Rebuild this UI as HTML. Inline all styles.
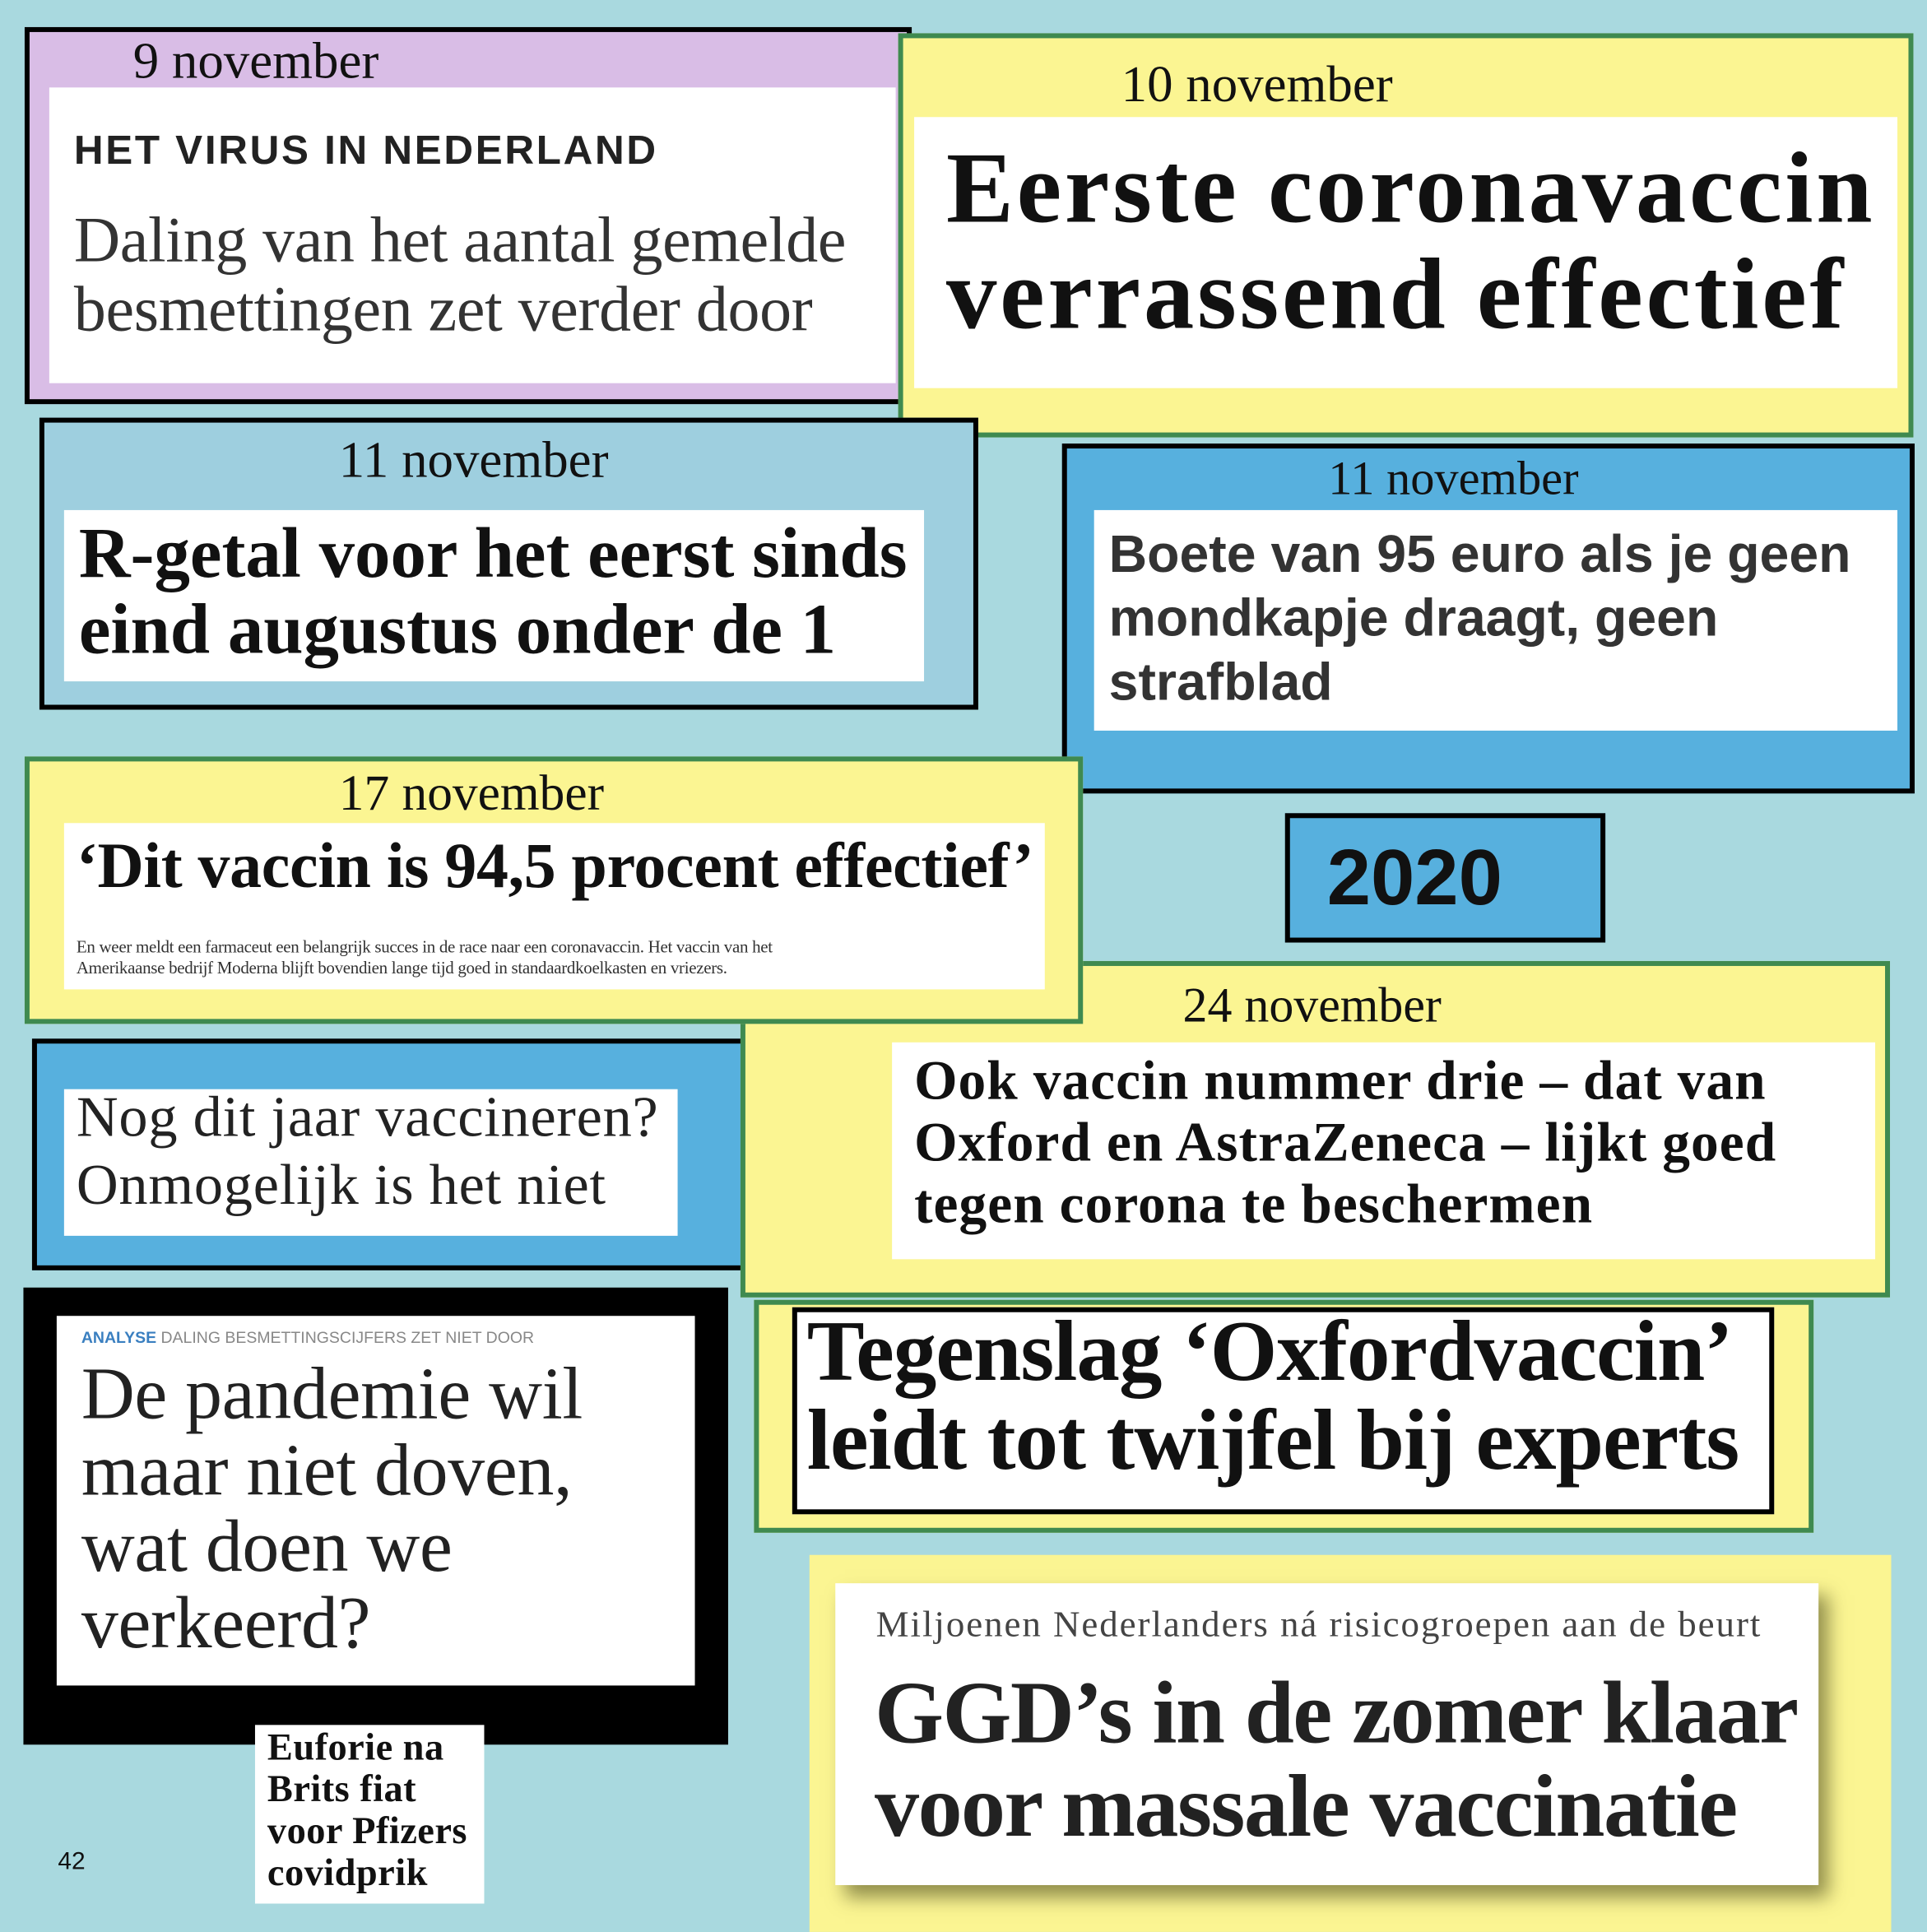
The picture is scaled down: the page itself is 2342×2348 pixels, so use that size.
<!DOCTYPE html>
<html><head><meta charset="utf-8"><style>
html,body{margin:0;padding:0;}
body{width:2342px;height:2348px;overflow:hidden;background:#a9d9df;}
#w{position:absolute;left:0;top:0;width:1564px;height:1568px;transform:scale(1.4974);transform-origin:0 0;background:#a9d9df;}
.b{position:absolute;box-sizing:border-box;}
.wh{position:absolute;background:#fff;box-sizing:border-box;}
.s{font-family:"Liberation Serif",serif;}
.ss{font-family:"Liberation Sans",sans-serif;}
.t{position:absolute;white-space:nowrap;color:#111;}
.yel{background:#fbf592;border:4px solid #3f8a50;}
.blk{border:4px solid #000;}
</style></head><body><div id="w">

<div class="b blk" style="left:20px;top:22px;width:720px;height:306px;background:#d9bde6;"></div>
<div class="wh" style="left:40px;top:71px;width:687px;height:240px;"></div>
<div class="t s" style="left:108px;top:26px;font-size:42px;">9 november</div>
<div class="t ss" style="left:60px;top:103px;font-size:33px;font-weight:bold;color:#222;letter-spacing:1.8px;">HET VIRUS IN NEDERLAND</div>
<div class="t s" style="left:60px;top:168px;font-size:52px;line-height:56px;color:#333;letter-spacing:-0.2px;">Daling van het aantal gemelde<br>besmettingen zet verder door</div>

<div class="b yel" style="left:729px;top:27px;width:824px;height:328px;"></div>
<div class="wh" style="left:742px;top:95px;width:798px;height:220px;"></div>
<div class="t s" style="left:910px;top:45px;font-size:42px;">10 november</div>
<div class="t s" style="left:768px;top:110px;font-size:82px;line-height:86px;font-weight:bold;letter-spacing:2.5px;">Eerste coronavaccin<br>verrassend effectief</div>

<div class="b blk" style="left:32px;top:339px;width:762px;height:237px;background:#9ecfdf;"></div>
<div class="wh" style="left:52px;top:414px;width:698px;height:139px;"></div>
<div class="t s" style="left:275px;top:350px;font-size:42px;">11 november</div>
<div class="t s" style="left:64px;top:418px;font-size:58px;line-height:62px;font-weight:bold;letter-spacing:0px;">R-getal voor het eerst sinds<br>eind augustus onder de 1</div>

<div class="b blk" style="left:862px;top:360px;width:692px;height:284px;background:#57b0de;"></div>
<div class="wh" style="left:888px;top:414px;width:652px;height:179px;"></div>
<div class="t s" style="left:1078px;top:366px;font-size:39px;">11 november</div>
<div class="t ss" style="left:900px;top:424px;font-size:43px;line-height:52px;font-weight:bold;color:#333;">Boete van 95 euro als je geen<br>mondkapje draagt, geen<br>strafblad</div>

<div class="b blk" style="left:1043px;top:660px;width:260px;height:105px;background:#57b0de;"></div>
<div class="t ss" style="left:1077px;top:675px;font-size:64px;font-weight:bold;">2020</div>

<div class="b blk" style="left:26px;top:843px;width:600px;height:188px;background:#57b0de;"></div>
<div class="wh" style="left:52px;top:884px;width:498px;height:119px;"></div>
<div class="t s" style="left:62px;top:880px;font-size:47px;line-height:55px;color:#222;letter-spacing:0.5px;">Nog dit jaar vaccineren?<br>Onmogelijk is het niet</div>

<div class="b yel" style="left:601px;top:780px;width:933px;height:273px;"></div>
<div class="wh" style="left:724px;top:846px;width:798px;height:176px;"></div>
<div class="t s" style="left:960px;top:792px;font-size:40px;">24 november</div>
<div class="t s" style="left:742px;top:852px;font-size:45px;line-height:50px;font-weight:bold;letter-spacing:0.7px;">Ook vaccin nummer drie – dat van<br>Oxford en AstraZeneca – lijkt goed<br>tegen corona te beschermen</div>

<div class="b yel" style="left:20px;top:614px;width:859px;height:217px;"></div>
<div class="wh" style="left:52px;top:668px;width:796px;height:135px;"></div>
<div class="t s" style="left:275px;top:619px;font-size:41px;">17 november</div>
<div class="t s" style="left:62px;top:674px;font-size:52px;font-weight:bold;letter-spacing:-0.2px;">‘Dit vaccin is 94,5 procent effectief’</div>
<div class="t s" style="left:62px;top:761px;font-size:14px;line-height:17px;color:#333;letter-spacing:-0.2px;">En weer meldt een farmaceut een belangrijk succes in de race naar een coronavaccin. Het vaccin van het<br>Amerikaanse bedrijf Moderna blijft bovendien lange tijd goed in standaardkoelkasten en vriezers.</div>

<div class="b" style="left:19px;top:1045px;width:572px;height:371px;background:#000;"></div>
<div class="wh" style="left:46px;top:1068px;width:518px;height:300px;"></div>
<div class="t ss" style="left:66px;top:1078px;font-size:13px;color:#888;"><b style="color:#3a7fc0;">ANALYSE</b> DALING BESMETTINGSCIJFERS ZET NIET DOOR</div>
<div class="t s" style="left:66px;top:1100px;font-size:60px;line-height:62px;color:#222;letter-spacing:-0.2px;">De pandemie wil<br>maar niet doven,<br>wat doen we<br>verkeerd?</div>

<div class="b yel" style="left:612px;top:1055px;width:860px;height:189px;"></div>
<div class="wh" style="left:643px;top:1061px;width:797px;height:168px;border:4px solid #000;"></div>
<div class="t s" style="left:655px;top:1062px;font-size:70px;line-height:72px;font-weight:bold;letter-spacing:-0.6px;">Tegenslag ‘Oxfordvaccin’<br>leidt tot twijfel bij experts</div>

<div class="b" style="left:657px;top:1262px;width:878px;height:306px;background:#fbf592;"></div>
<div class="wh" style="left:678px;top:1285px;width:798px;height:245px;box-shadow:8px 10px 14px rgba(60,60,20,0.55);"></div>
<div class="t s" style="left:711px;top:1302px;font-size:30px;color:#444;letter-spacing:1.3px;">Miljoenen Nederlanders ná risicogroepen aan de beurt</div>
<div class="t s" style="left:710px;top:1352px;font-size:72px;line-height:76px;font-weight:bold;color:#222;letter-spacing:-1px;">GGD’s in de zomer klaar<br>voor massale vaccinatie</div>

<div class="wh" style="left:207px;top:1400px;width:186px;height:145px;"></div>
<div class="t s" style="left:217px;top:1401px;font-size:31px;line-height:34px;font-weight:bold;letter-spacing:0.3px;">Euforie na<br>Brits fiat<br>voor Pfizers<br>covidprik</div>

<div class="t ss" style="left:47px;top:1500px;font-size:20px;">42</div>
</div></body></html>
